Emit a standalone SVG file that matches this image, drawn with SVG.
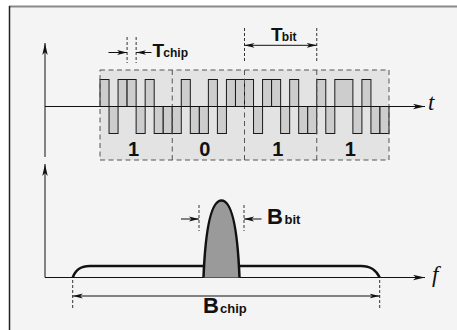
<svg xmlns="http://www.w3.org/2000/svg" width="457" height="330" viewBox="0 0 457 330">
<defs>
<style>
.axis{stroke:#111;stroke-width:1;fill:none}
.chip{fill:#cdcdcd;stroke:#1a1a1a;stroke-width:1}
.dash{stroke:#333;stroke-width:1;stroke-dasharray:3 2;fill:none}
.bdash{stroke:#555;stroke-width:1;stroke-dasharray:5 3.5;fill:none}
.dim{stroke:#111;stroke-width:1;fill:none}
.lbl{font-family:"Liberation Sans",Arial,sans-serif;font-weight:bold;fill:#111}
.var{font-family:"Liberation Serif","Times New Roman",serif;font-style:italic;fill:#111;font-size:23px}
.spec{stroke:#111;stroke-width:2.5;fill:none;stroke-linejoin:round}
</style>
<marker id="ax" viewBox="0 0 12 6" refX="12" refY="3" markerWidth="12" markerHeight="6" orient="auto-start-reverse" markerUnits="userSpaceOnUse">
<path d="M0,0.3 L12,3 L0,5.7 L3,3 z" fill="#111"/>
</marker>
<marker id="ah" viewBox="0 0 10 6" refX="10" refY="3" markerWidth="10" markerHeight="6" orient="auto-start-reverse" markerUnits="userSpaceOnUse">
<path d="M0,0.6 L10,3 L0,5.4 L2.5,3 z" fill="#111"/>
</marker>
</defs>

<g id="frame">
<rect x="9" y="6" width="448" height="324" fill="#f4f4f4"/>
<line x1="9" y1="6.5" x2="457" y2="6.5" stroke="#8a8a8a" stroke-width="2"/>
<line x1="9.5" y1="6" x2="9.5" y2="330" stroke="#222" stroke-width="1.5"/>
</g>

<g id="bitbox">
<rect x="100" y="70" width="289" height="90" fill="#e3e3e3"/>
</g>

<g id="chips">
<rect class="chip" x="100" y="79.5" width="9.03" height="27"/>
<rect class="chip" x="109.03" y="106.5" width="9.03" height="27"/>
<rect class="chip" x="118.06" y="79.5" width="9.03" height="27"/>
<rect class="chip" x="127.09" y="79.5" width="9.04" height="27"/>
<rect class="chip" x="136.13" y="106.5" width="9.03" height="27"/>
<rect class="chip" x="145.16" y="79.5" width="9.03" height="27"/>
<rect class="chip" x="154.19" y="106.5" width="9.03" height="27"/>
<rect class="chip" x="163.22" y="106.5" width="9.03" height="27"/>

<rect class="chip" x="172.25" y="106.5" width="9.03" height="27"/>
<rect class="chip" x="181.28" y="79.5" width="9.03" height="27"/>
<rect class="chip" x="190.31" y="106.5" width="9.03" height="27"/>
<rect class="chip" x="199.34" y="106.5" width="9.04" height="27"/>
<rect class="chip" x="208.38" y="79.5" width="9.03" height="27"/>
<rect class="chip" x="217.41" y="106.5" width="9.03" height="27"/>
<rect class="chip" x="226.44" y="79.5" width="9.03" height="27"/>
<rect class="chip" x="235.47" y="79.5" width="9.03" height="27"/>

<rect class="chip" x="244.5" y="79.5" width="9.03" height="27"/>
<rect class="chip" x="253.53" y="106.5" width="9.03" height="27"/>
<rect class="chip" x="262.56" y="79.5" width="9.03" height="27"/>
<rect class="chip" x="271.59" y="79.5" width="9.04" height="27"/>
<rect class="chip" x="280.63" y="106.5" width="9.03" height="27"/>
<rect class="chip" x="289.66" y="79.5" width="9.03" height="27"/>
<rect class="chip" x="298.69" y="106.5" width="9.03" height="27"/>
<rect class="chip" x="307.72" y="106.5" width="9.03" height="27"/>

<rect class="chip" x="316.75" y="79.5" width="9.03" height="27"/>
<rect class="chip" x="325.78" y="106.5" width="9.03" height="27"/>
<rect class="chip" x="334.81" y="79.5" width="18.07" height="27"/>
<rect class="chip" x="352.88" y="106.5" width="9.03" height="27"/>
<rect class="chip" x="361.91" y="79.5" width="9.03" height="27"/>
<rect class="chip" x="370.94" y="106.5" width="9.03" height="27"/>
<rect class="chip" x="379.97" y="106.5" width="9.03" height="27"/>
</g>

<g id="bitbox-outline">
<rect class="bdash" x="100" y="70" width="289" height="90"/>
<line class="bdash" x1="172.25" y1="70" x2="172.25" y2="160"/>
<line class="bdash" x1="244.5" y1="70" x2="244.5" y2="160"/>
<line class="bdash" x1="316.75" y1="70" x2="316.75" y2="160"/>
</g>

<g id="bits">
<text class="lbl" x="133.5" y="156" font-size="20" text-anchor="middle">1</text>
<text class="lbl" x="204.8" y="156" font-size="20" text-anchor="middle">0</text>
<text class="lbl" x="277.8" y="156" font-size="20" text-anchor="middle">1</text>
<text class="lbl" x="350.2" y="156" font-size="20" text-anchor="middle">1</text>
</g>

<g id="connectors">
<line class="axis" x1="45" y1="157" x2="45" y2="43" marker-end="url(#ax)"/>
<line class="axis" x1="45" y1="106.5" x2="425" y2="106.5" marker-end="url(#ax)"/>
<line class="axis" x1="45" y1="277.5" x2="45" y2="164" marker-end="url(#ax)"/>
<line class="axis" x1="45" y1="277.5" x2="425" y2="277.5" marker-end="url(#ax)"/>
</g>

<g id="t-label"><text class="var" x="428" y="110">t</text></g>
<g id="f-label"><text class="var" x="432" y="282">f</text></g>

<g id="tchip">
<line class="dash" x1="127.09" y1="37" x2="127.09" y2="63"/>
<line class="dash" x1="136.13" y1="37" x2="136.13" y2="63"/>
<line class="dim" x1="108.5" y1="52.5" x2="127.09" y2="52.5" marker-end="url(#ah)"/>
<line class="dim" x1="151.5" y1="52.5" x2="136.13" y2="52.5" marker-end="url(#ah)"/>
<text class="lbl" x="152.5" y="56.5"><tspan font-size="19">T</tspan><tspan font-size="12" dx="-0.8">chip</tspan></text>
</g>

<g id="tbit">
<line class="dash" x1="244.5" y1="28" x2="244.5" y2="62"/>
<line class="dash" x1="316.75" y1="28" x2="316.75" y2="62"/>
<line class="dim" x1="244.5" y1="45.3" x2="316.75" y2="45.3" marker-start="url(#ah)" marker-end="url(#ah)"/>
<text class="lbl" x="271" y="40.5"><tspan font-size="19">T</tspan><tspan font-size="12" dx="-0.8">bit</tspan></text>
</g>

<g id="spectrum">
<path class="spec" d="M72.7,277.5 C75.5,270 80,266 90,266 L361,266 C371,266 376,270 379.7,277.5"/>
<path d="M203.5,277.5 C205.5,228 211.5,200.5 221.5,200.5 C231.5,200.5 237.5,228 239.5,277.5 Z" fill="#9a9a9a" stroke="none"/>
<path class="spec" d="M203.5,277.5 C205.5,228 211.5,200.5 221.5,200.5 C231.5,200.5 237.5,228 239.5,277.5"/>
</g>

<g id="bbit">
<line class="dash" x1="199" y1="205" x2="199" y2="231"/>
<line class="dash" x1="244" y1="205" x2="244" y2="231"/>
<line class="dim" x1="181" y1="219" x2="199" y2="219" marker-end="url(#ah)"/>
<line class="dim" x1="261.5" y1="219" x2="244" y2="219" marker-end="url(#ah)"/>
<text class="lbl" x="267" y="224" font-size="22">B</text>
<text class="lbl" x="284.5" y="224" font-size="13">bit</text>
</g>

<g id="bchip">
<line class="dash" x1="72.7" y1="280" x2="72.7" y2="308"/>
<line class="dash" x1="379.7" y1="280" x2="379.7" y2="308"/>
<line class="dim" stroke="#444" x1="72.7" y1="296" x2="379.7" y2="296" marker-start="url(#ah)" marker-end="url(#ah)"/>
<text class="lbl" x="203" y="313" font-size="22">B</text>
<text class="lbl" x="220" y="313" font-size="13">chip</text>
</g>
</svg>
